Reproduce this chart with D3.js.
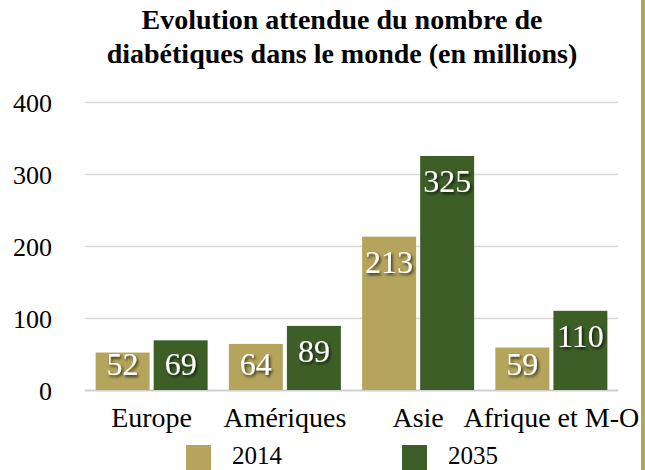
<!DOCTYPE html>
<html>
<head>
<meta charset="utf-8">
<script src="https://cdn.jsdelivr.net/npm/d3@7"></script>
<style>
  body { margin: 0; background: #fff; }
  svg { display: block; }
</style>
</head>
<body>
<div id="chart"></div>
<script>
var regions = ["Europe", "Amériques", "Asie", "Afrique et M-O"];
var years = ["2014", "2035"];
var values2014 = [52, 64, 213, 59];
var values2035 = [69, 89, 325, 110];
var yTicks = [0, 100, 200, 300, 400];
var titleLines = ["Evolution attendue du nombre de", "diabétiques dans le monde (en millions)"];

var width = 645, height = 470;
var font = "'Palatino Linotype', 'Book Antiqua', Palatino, 'Liberation Serif', serif";
var color = d3.scaleOrdinal().domain(years).range(["#b5a55c", "#3e5e27"]);

var svg = d3.select("#chart")
    .append("svg")
    .attr("width", width)
    .attr("height", height)
    .style("font-family", font);

var x = d3.scaleBand()
    .domain(regions)
    .range([85, 618]);

var xs = d3.scaleBand()
    .domain(years)
    .range([0, 112])
    .paddingInner(0.07);

var y = d3.scaleLinear()
    .domain([0, 400])
    .range([390, 102]);

// title
svg.append("g")
    .selectAll("text")
    .data(titleLines)
    .enter()
    .append("text")
    .attr("x", 342)
    .attr("y", function(d, i) { return 29 + i * 34; })
    .attr("text-anchor", "middle")
    .attr("font-weight", "bold")
    .attr("font-size", 28)
    .text(function(d) { return d; });

// gridlines + y labels
var yAxis = svg.append("g")
    .attr("transform", "translate(85,0)")
    .call(d3.axisLeft(y).tickValues(yTicks).tickSize(-533).tickPadding(33));
yAxis.select(".domain").remove();
yAxis.selectAll(".tick line")
    .attr("stroke", function(d) { return d === 0 ? "#cfcfcf" : "#d9d9d9"; })
    .attr("stroke-width", function(d) { return d === 0 ? 2 : 1.3; });
yAxis.selectAll(".tick text")
    .attr("font-family", font)
    .attr("font-size", 26)
    .attr("fill", "#000")
    .attr("dy", "0.35em");

var rows = regions.map(function(r, i) {
    return { region: r, values: [
        { year: "2014", value: values2014[i] },
        { year: "2035", value: values2035[i] }
    ]};
});

var group = svg.selectAll(".group")
    .data(rows)
    .enter()
    .append("g")
    .attr("class", "group")
    .attr("transform", function(d) {
        return "translate(" + (x(d.region) + (x.bandwidth() - 112) / 2) + ",0)";
    });

var defs = svg.append("defs");
var f = defs.append("filter").attr("id", "shadow")
    .attr("x", "-20%").attr("y", "-20%").attr("width", "150%").attr("height", "150%");
f.append("feDropShadow")
    .attr("dx", 1.5).attr("dy", 2)
    .attr("stdDeviation", 1.8)
    .attr("flood-color", "#000")
    .attr("flood-opacity", 0.75);

var bar = group.selectAll(".bar")
    .data(function(d) { return d.values; })
    .enter()
    .append("g")
    .attr("class", "bar");

bar.append("rect")
    .attr("x", function(d) { return xs(d.year); })
    .attr("width", xs.bandwidth())
    .attr("y", function(d) { return y(d.value); })
    .attr("height", function(d) { return y(0) - y(d.value); })
    .attr("fill", function(d) { return color(d.year); });

bar.append("text")
    .attr("x", function(d) { return xs(d.year) + xs.bandwidth() / 2; })
    .attr("y", function(d) { return Math.min(y(d.value) + 36, 375); })
    .attr("text-anchor", "middle")
    .attr("font-size", 32)
    .attr("fill", "#fff")
    .attr("filter", "url(#shadow)")
    .text(function(d) { return d.value; });

// category labels
svg.append("g")
    .selectAll("text")
    .data(regions)
    .enter()
    .append("text")
    .attr("x", function(d) { return x(d) + x.bandwidth() / 2; })
    .attr("y", 427)
    .attr("text-anchor", "middle")
    .attr("font-size", 28)
    .text(function(d) { return d; });

// legend
var legendX = [186, 402];
var legend = svg.selectAll(".legend")
    .data(years)
    .enter()
    .append("g")
    .attr("class", "legend")
    .attr("transform", function(d, i) { return "translate(" + legendX[i] + ",445)"; });
legend.append("rect")
    .attr("width", 25)
    .attr("height", 25)
    .attr("fill", function(d) { return color(d); });
legend.append("text")
    .attr("x", 46)
    .attr("y", 19)
    .attr("font-size", 25)
    .text(function(d) { return d; });

// right border
svg.append("rect")
    .attr("x", 641)
    .attr("y", 0)
    .attr("width", 4)
    .attr("height", height)
    .attr("fill", "#b5a55c");
</script>
</body>
</html>
